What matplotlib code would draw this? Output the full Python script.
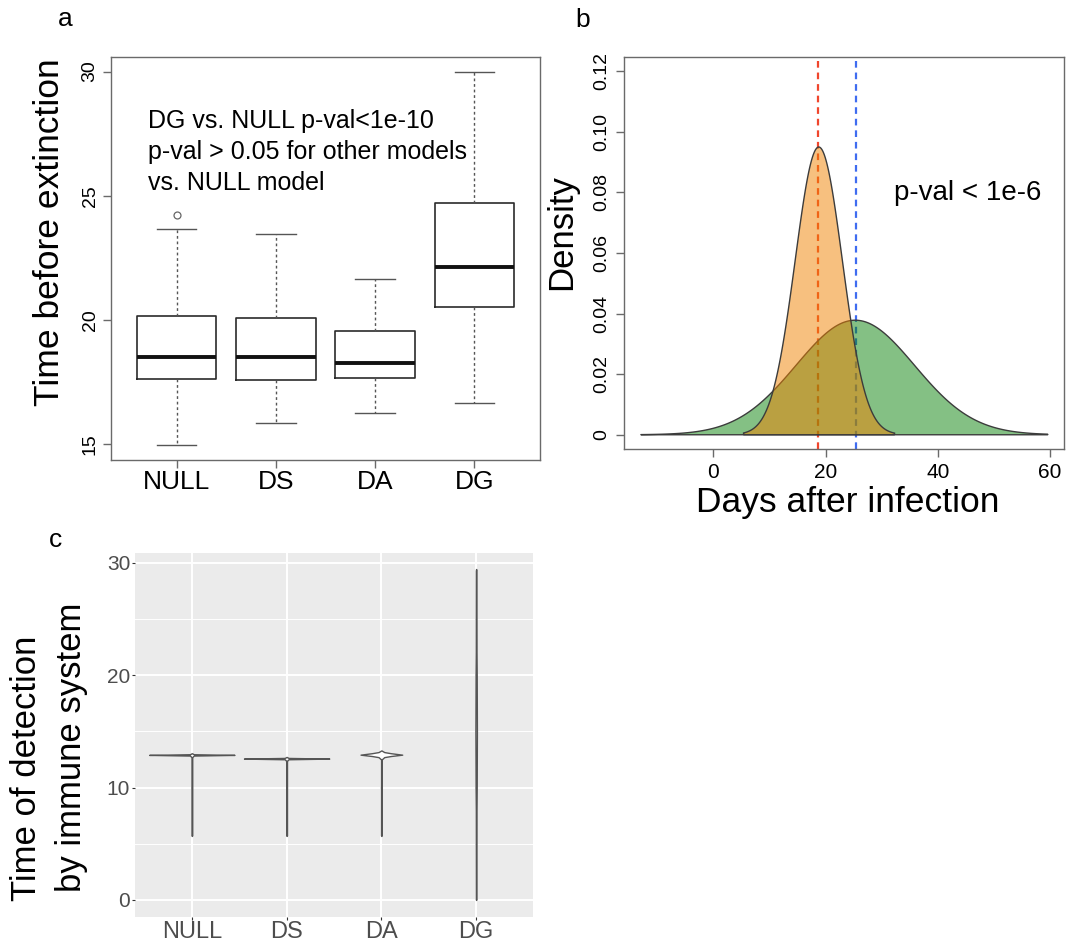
import numpy as np
import matplotlib
matplotlib.use('Agg')
import matplotlib.pyplot as plt
from matplotlib.colors import to_rgba

plt.rcParams['font.family'] = ['Liberation Sans', 'DejaVu Sans']

W, H = 1079, 944

# a: time before extinction, box summaries per model
models = ['NULL', 'DS', 'DA', 'DG']
ext_q1 = [17.63, 17.59, 17.67, 20.51]
ext_med = [18.51, 18.53, 18.28, 22.14]
ext_q3 = [20.17, 20.09, 19.57, 24.72]
ext_lo = [14.97, 15.84, 16.25, 16.68]
ext_hi = [23.65, 23.47, 21.66, 30.0]
ext_out = [[24.22], [], [], []]

# b: two density curves (green drawn first, orange on top)
dens_mean = [25.3, 18.8]
dens_sd = [10.55, 4.2]
dens_from = [-12.9, 5.4]
dens_to = [59.6, 32.3]
dens_col = ['#0a820a', '#f08200']
vline_x = [18.7, 25.4]
vline_col = ['#f0462d', '#3f6cf0']

# c: violin outlines as (y, half width) profiles
vio_y = [
    [5.69, 5.75, 12.70, 12.84, 12.90, 12.96, 13.05],
    [5.69, 5.75, 12.37, 12.51, 12.57, 12.63, 12.72],
    [5.69, 5.75, 12.50, 12.70, 12.80, 12.92, 13.05, 13.15, 13.30],
    [0.0, 0.1, 8.0, 10.0, 15.0, 20.0, 22.0, 29.3, 29.43],
]
vio_w = [
    [0.0, 0.004, 0.004, 0.02, 0.45, 0.02, 0.0],
    [0.0, 0.004, 0.004, 0.02, 0.45, 0.02, 0.0],
    [0.0, 0.004, 0.004, 0.03, 0.10, 0.22, 0.10, 0.03, 0.0],
    [0.0, 0.003, 0.004, 0.006, 0.008, 0.006, 0.004, 0.003, 0.0],
]


def axes_px(fig, left, top, right, bottom):
    return fig.add_axes([left / W, 1 - bottom / H, (right - left) / W, (bottom - top) / H])


def text_px(fig, x, y, s, **kw):
    fig.text(x / W, 1 - y / H, s, **kw)


fig = plt.figure(figsize=(W / 100, H / 100), dpi=100)
frame = '#6a6a6a'

# ---- panel a: boxplots ----
ax = axes_px(fig, 111, 56.7, 540, 460)
stats = []
for i, m in enumerate(models):
    stats.append(dict(label=m, q1=ext_q1[i], med=ext_med[i], q3=ext_q3[i],
                      whislo=ext_lo[i], whishi=ext_hi[i], fliers=ext_out[i]))
ax.bxp(stats, positions=[1, 2, 3, 4], widths=0.8, capwidths=0.4,
       boxprops=dict(color='#2b2b2b', lw=1.2),
       medianprops=dict(color='#111111', lw=2.8, solid_capstyle='butt'),
       whiskerprops=dict(color='#555555', lw=1.0, linestyle=(0, (2, 2))),
       capprops=dict(color='#555555', lw=1.0),
       flierprops=dict(marker='o', markersize=5, markerfacecolor='none',
                       markeredgecolor='#666666', markeredgewidth=0.9))
ax.set_xlim(0.34, 4.66)
ax.set_ylim(14.37, 30.6)
ax.set_yticks([15, 20, 25, 30])
ax.set_yticklabels(['15', '20', '25', '30'], rotation=90, va='center', fontsize=14)
ax.set_xticks([1, 2, 3, 4])
ax.set_xticklabels(models, fontsize=19)
ax.tick_params(direction='out', length=6, width=1, color=frame)
ax.tick_params(axis='x', pad=1)
ax.tick_params(axis='y', pad=3)
for sp in ax.spines.values():
    sp.set_color(frame)
    sp.set_linewidth(1.0)
text_px(fig, 148, 128, 'DG vs. NULL p-val<1e-10', fontsize=18, va='baseline')
text_px(fig, 148, 159.5, 'p-val > 0.05 for other models', fontsize=18, va='baseline')
text_px(fig, 148, 190, 'vs. NULL model', fontsize=18, va='baseline')
text_px(fig, 50, 232, 'Time before extinction', fontsize=25.5, rotation=90,
        ha='center', va='center')
text_px(fig, 65, 26, 'a', fontsize=19, ha='center', va='baseline')

# ---- panel b: densities ----
bx = axes_px(fig, 624, 56.7, 1063.5, 449.3)
for xv, c in zip(vline_x, vline_col):
    bx.axvline(xv, color=c, lw=1.6, linestyle=(0, (3.0, 2.2)), zorder=1)
for mu, sd, lo, hi, c in zip(dens_mean, dens_sd, dens_from, dens_to, dens_col):
    xs = np.linspace(lo, hi, 500)
    ys = np.exp(-0.5 * ((xs - mu) / sd) ** 2) / (sd * np.sqrt(2 * np.pi))
    bx.fill(np.r_[xs, hi, lo], np.r_[ys, 0, 0], facecolor=to_rgba(c, 0.5),
            edgecolor='#3c3c3c', lw=1.0, zorder=2)
bx.set_xlim(-15.9, 62.4)
bx.set_ylim(-0.0048, 0.1248)
bx.set_xticks([0, 20, 40, 60])
bx.set_xticklabels(['0', '20', '40', '60'], fontsize=15)
yt = [0, 0.02, 0.04, 0.06, 0.08, 0.10, 0.12]
bx.set_yticks(yt)
bx.set_yticklabels(['0', '0.02', '0.04', '0.06', '0.08', '0.10', '0.12'],
                   rotation=90, va='center', fontsize=14)
bx.tick_params(direction='out', length=6, width=1, color=frame)
bx.tick_params(axis='x', pad=4)
bx.tick_params(axis='y', pad=4)
for sp in bx.spines.values():
    sp.set_color(frame)
    sp.set_linewidth(1.0)
text_px(fig, 894, 200, 'p-val < 1e-6', fontsize=20, va='baseline')
text_px(fig, 562, 232, 'Density', fontsize=25, rotation=90, ha='center', va='center')
text_px(fig, 848, 511.7, 'Days after infection', fontsize=25.5, ha='center', va='baseline')
text_px(fig, 583, 26.7, 'b', fontsize=19, ha='center', va='baseline')

# ---- panel c: violins, ggplot-like grey panel ----
cx = axes_px(fig, 135, 552.5, 533, 916.7)
cx.set_facecolor('#ebebeb')
for sp in cx.spines.values():
    sp.set_visible(False)
cx.set_xlim(0.4, 4.6)
cx.set_ylim(-1.49, 30.9)
for yv in [5, 15, 25]:
    cx.axhline(yv, color='white', lw=0.7, zorder=0)
for yv in [0, 10, 20, 30]:
    cx.axhline(yv, color='white', lw=1.4, zorder=0)
for xv in [1, 2, 3, 4]:
    cx.axvline(xv, color='white', lw=1.4, zorder=0)
for i in range(4):
    y = np.array(vio_y[i])
    w = np.array(vio_w[i])
    cx.fill_betweenx(y, i + 1 - w, i + 1 + w, facecolor='white',
                     edgecolor='#555555', lw=1.0, zorder=3)
cx.set_yticks([0, 10, 20, 30])
cx.set_yticklabels(['0', '10', '20', '30'], fontsize=15, color='#4d4d4d')
cx.set_xticks([1, 2, 3, 4])
cx.set_xticklabels(models, fontsize=17, color='#4d4d4d')
cx.tick_params(direction='out', length=2.5, width=0.8, color='#333333')
cx.tick_params(axis='y', pad=1)
cx.tick_params(axis='x', pad=0.5)
text_px(fig, 27, 768, 'Time of detection', fontsize=25, rotation=90,
        ha='center', va='center')
text_px(fig, 71, 747, 'by immune system', fontsize=25, rotation=90,
        ha='center', va='center')
text_px(fig, 55, 547, 'c', fontsize=19, ha='center', va='baseline')

fig.savefig('out.png', dpi=100)
